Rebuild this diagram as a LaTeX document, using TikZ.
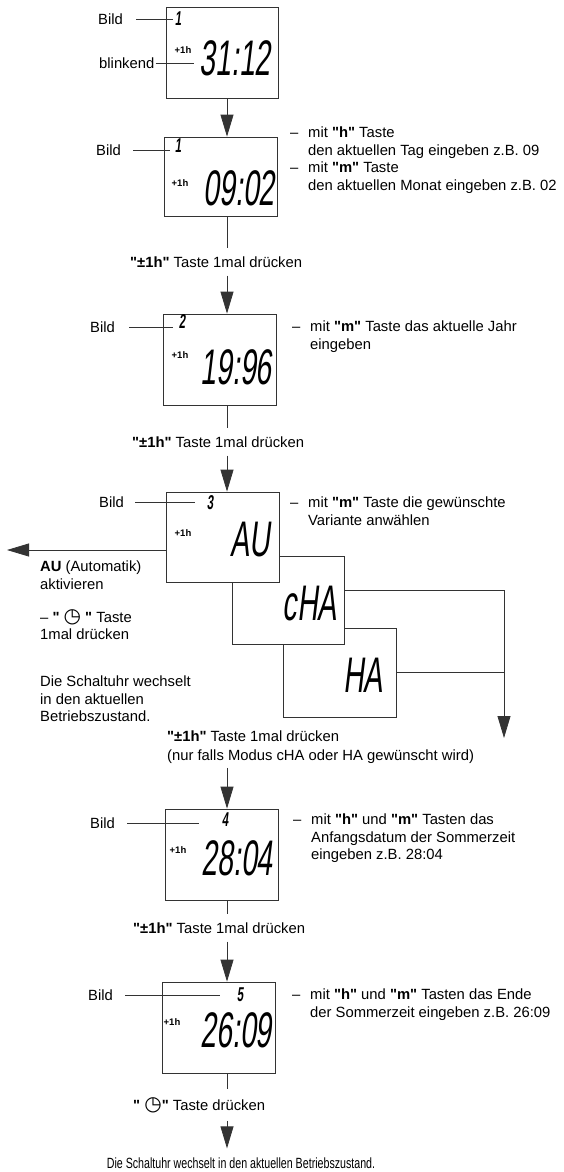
\documentclass[tikz,border=0pt]{standalone}
\usepackage{fontspec}
\newfontfamily\labelfont{Liberation Sans}
\newfontfamily\narrowfont{Liberation Sans}[FakeStretch=0.72]
\newfontfamily\lcdfont{Liberation Sans}[FakeStretch=0.57,FakeSlant=0.12]
\newfontfamily\symfont{DejaVu Sans}
\usetikzlibrary{arrows.meta}
\newcommand{\clocksym}{{\symfont\fontsize{20}{17.5}\selectfont ◷}}
\newcommand{\dashitem}{\makebox[18pt][l]{–}}
\newcommand{\dashgap}{\hspace*{18pt}}
\begin{document}
\begin{tikzpicture}[x=1pt,y=-1pt,
    every node/.style={inner sep=0pt,font=\labelfont\fontsize{14.8}{17.5}\selectfont},
    screen/.style={draw=black!80,line width=0.8pt,fill=white,minimum width=113pt,minimum height=91pt},
    digits/.style={anchor=east,font=\lcdfont\fontsize{50}{50}\selectfont},
    plus/.style={font=\labelfont\bfseries\fontsize{9.5}{10}\selectfont},
    num/.style={font=\lcdfont\bfseries\fontsize{20}{20}\selectfont},
    note/.style={anchor=north west,align=left},
    press/.style={anchor=west,align=left,inner ysep=8pt},
    arr/.style={draw=black!80,line width=0.8pt,-{Triangle[length=22pt,width=13pt]}},
    wire/.style={draw=black!80,line width=0.8pt}]
      \useasboundingbox (0,0) rectangle (564,1172);
      \coordinate (ax) at (227,0);
      \coordinate (auout) at (7,550);
      \coordinate (drop) at (504,738);
      \node[screen,minimum width=112pt] (s1) at (222,52.5) {};
      \node[screen,minimum height=79pt] (s2) at (221,176.5) {};
      \node[screen] (s3) at (220,359.5) {};
      \node[screen,minimum height=89pt] (sha) at (339.5,672.5) {};
      \node[screen,minimum width=112pt,minimum height=88pt] (scha) at (288,600) {};
      \node[screen,minimum height=90pt] (sau) at (222.5,537) {};
      \node[screen] (s4) at (221.5,854.5) {};
      \node[screen] (s5) at (218.5,1027.5) {};
      \draw
        (271,58) node[digits] (d1) {31:12}
        (275,188) node[digits] (d2) {09:02}
        (272,367) node[digits] (d3) {19:96}
        (270,540) node[digits] (dau) {AU}
        (337,604) node[digits] (dcha) {cHA}
        (383,675) node[digits] (dha) {HA}
        (273,858) node[digits] (d4) {28:04}
        (272,1030) node[digits] (d5) {26:09};
      \draw
        (178,19) node[num] (n1) {1}
        (178,146) node[num] (n2) {1}
        (182,322) node[num] (n3) {2}
        (210,503) node[num] (nau) {3}
        (225,820) node[num] (n4) {4}
        (240,995) node[num] (n5) {5};
      \draw
        (183,50) node[plus] (p1) {+1h}
        (180,183) node[plus] (p2) {+1h}
        (180,355) node[plus] (p3) {+1h}
        (183,533) node[plus] (pau) {+1h}
        (178,850) node[plus] (p4) {+1h}
        (172,1022) node[plus] (p5) {+1h};
      \draw
        (98,19) node[anchor=west] (b1) {Bild}
        (99,63) node[anchor=west] (blink) {blinkend}
        (96,150) node[anchor=west] (b2) {Bild}
        (90,327) node[anchor=west] (b3) {Bild}
        (99,502) node[anchor=west] (bau) {Bild}
        (90,823) node[anchor=west] (b4) {Bild}
        (88,995) node[anchor=west] (b5) {Bild};
      \draw
        (290,127) node[note] (r2) {\dashitem mit \textbf{"h"} Taste\\
          \dashgap den aktuellen Tag eingeben z.B. 09\\
          \dashitem mit \textbf{"m"} Taste\\
          \dashgap den aktuellen Monat eingeben z.B. 02}
        (292,321) node[note] (r3) {\dashitem mit \textbf{"m"} Taste das aktuelle Jahr\\
          \dashgap eingeben}
        (290,497) node[note] (rau) {\dashitem mit \textbf{"m"} Taste die gewünschte\\
          \dashgap Variante anwählen}
        (293,814) node[note] (r4) {\dashitem mit \textbf{"h"} und \textbf{"m"} Tasten das\\
          \dashgap Anfangsdatum der Sommerzeit\\
          \dashgap eingeben z.B. 28:04}
        (292,989) node[note] (r5) {\dashitem mit \textbf{"h"} und \textbf{"m"} Tasten das Ende\\
          \dashgap der Sommerzeit eingeben z.B. 26:09}
        (40,561) node[note] (l1) {\textbf{AU} (Automatik)\\aktivieren}
        (40,609) node[note] (l2) {– \textbf{" \clocksym\ "} Taste\\1mal drücken}
        (40,676) node[note] (l3) {Die Schaltuhr wechselt\\in den aktuellen\\Betriebszustand.};
      \draw
        (130,262) node[press] (t2) {\textbf{"±1h"} Taste 1mal drücken}
        (132,442) node[press] (t3) {\textbf{"±1h"} Taste 1mal drücken}
        (167,747) node[press,inner ysep=4pt] (t4) {\textbf{"±1h"} Taste 1mal drücken\\[2pt]
          (nur falls Modus cHA oder HA gewünscht wird)}
        (133,1105) node[press] (t8) {\textbf{" \clocksym"} Taste drücken}
        (133,928) node[press] (t7) {\textbf{"±1h"} Taste 1mal drücken}
        (241,1163) node[inner ysep=9pt,font=\narrowfont\fontsize{14.8}{17.5}\selectfont] (fin) {Die Schaltuhr wechselt in den aktuellen Betriebszustand.};
      \begin{scope}[wire]
        \draw[shorten <=13pt,shorten >=2pt] (b1.east) -- (b1.east -| n1.west);
        \draw[shorten <=1pt,shorten >=5pt] (blink.east) -- (blink.east -| d1.west);
        \draw[shorten <=12pt,shorten >=5pt] (b2.east) -- (b2.east -| n2.west);
        \draw[shorten <=14pt,shorten >=6pt] (b3.east) -- (b3.east -| n3.west);
        \draw[shorten <=11pt,shorten >=12pt] (bau.east) -- (bau.east -| nau.west);
        \draw[shorten <=12pt,shorten >=23pt] (b4.east) -- (b4.east -| n4.west);
        \draw[shorten <=12pt,shorten >=17pt] (b5.east) -- (b5.east -| n5.west);
        \draw[arr] (s1.south -| ax) -- (s2.north -| ax);
        \draw (s2.south -| ax) -- (t2.north -| ax);
        \draw[arr] (t2.south -| ax) -- (s3.north -| ax);
        \draw (s3.south -| ax) -- (t3.north -| ax);
        \draw[arr] (t3.south -| ax) -- (sau.north -| ax);
        \draw[arr] (sau.west |- auout) -- (auout);
        \draw[arr] (scha.10) -| (drop);
        \draw (sha.east) -- (sha.east -| drop);
        \draw[arr] (t4.south -| ax) -- (s4.north -| ax);
        \draw (s4.south -| ax) -- (t7.north -| ax);
        \draw[arr] (t7.south -| ax) -- (s5.north -| ax);
        \draw (s5.south -| ax) -- (t8.north -| ax);
        \draw[arr] (t8.south -| ax) -- (fin.north -| ax);
      \end{scope}
    \end{tikzpicture}
\end{document}
